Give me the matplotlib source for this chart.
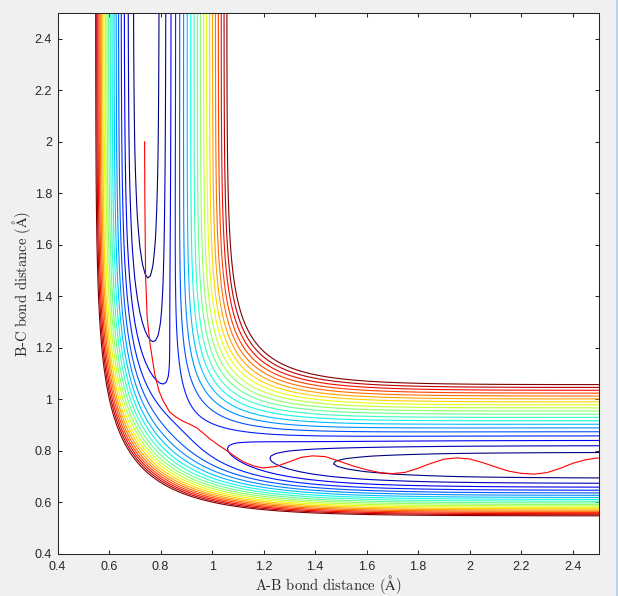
import numpy as np
import matplotlib
matplotlib.use("Agg")
import matplotlib.pyplot as plt
from matplotlib.lines import Line2D

plt.rcParams['mathtext.fontset'] = 'cm'

# LEPS surface parameters (H + H2, eV / Angstrom)
De = 4.746
beta = 1.942
r0 = 0.742
sato_k = 0.192

# contour levels (eV)
levels = [-4.70, -4.65, -4.60, -4.55, -4.50, -4.45, -4.40, -4.35, -4.30, -4.25,
          -4.20, -4.15, -4.10, -4.05, -4.00, -3.95, -3.90, -3.85, -3.80, -3.75]

# trajectory (A-B distance, B-C distance)
traj_ab = [0.738, 0.739, 0.742, 0.748, 0.759, 0.778, 0.795, 0.810, 0.836, 0.862,
           0.888, 0.915, 0.940, 0.965, 0.990, 1.020, 1.056, 1.090, 1.121, 1.160,
           1.198, 1.250, 1.300, 1.345, 1.390, 1.440, 1.500, 1.550, 1.600, 1.650,
           1.700, 1.750, 1.800, 1.850, 1.900, 1.950, 2.000, 2.050, 2.100, 2.150,
           2.200, 2.250, 2.300, 2.350, 2.400, 2.450, 2.500]
traj_bc = [2.000, 1.785, 1.475, 1.320, 1.217, 1.095, 1.030, 0.995, 0.950, 0.930,
           0.915, 0.903, 0.890, 0.870, 0.848, 0.826, 0.802, 0.778, 0.758, 0.742,
           0.734, 0.740, 0.758, 0.775, 0.781, 0.778, 0.758, 0.741, 0.727, 0.716,
           0.712, 0.717, 0.733, 0.752, 0.768, 0.773, 0.769, 0.755, 0.738, 0.722,
           0.713, 0.710, 0.716, 0.732, 0.752, 0.766, 0.773]

xticks = [0.4, 0.6, 0.8, 1.0, 1.2, 1.4, 1.6, 1.8, 2.0, 2.2, 2.4]
xticklabels = ['0.4', '0.6', '0.8', '1', '1.2', '1.4', '1.6', '1.8', '2', '2.2', '2.4']


def leps(rab, rbc, k):
    rac = rab + rbc

    def qj(r):
        e1 = np.exp(-beta * (r - r0))
        e2 = e1 ** 2
        Q = De / 4 * ((3 + k) * e2 - (2 + 6 * k) * e1)
        J = De / 4 * ((1 + 3 * k) * e2 - (6 + 2 * k) * e1)
        return Q, J

    Qa, Ja = qj(rab)
    Qb, Jb = qj(rbc)
    Qc, Jc = qj(rac)
    root = np.sqrt(np.maximum(Ja**2 + Jb**2 + Jc**2 - Ja*Jb - Jb*Jc - Ja*Jc, 0))
    return (Qa + Qb + Qc - root) / (1 + k)


axc = '#262626'
fig = plt.figure(figsize=(6.18, 5.96), dpi=100, facecolor='#f0f0f0')
ax = fig.add_axes([57.5 / 618, 42 / 596, 541 / 618, 541 / 596])
ax.set_facecolor('white')

g = np.arange(0.4, 2.515, 0.01)
X, Y = np.meshgrid(g, g)
Z = leps(X, Y, sato_k)
ax.contour(X, Y, Z, levels=levels, cmap='jet', linewidths=0.8)
ax.plot(traj_ab, traj_bc, color='red', lw=0.8)

ax.set_xlim(0.4, 2.5)
ax.set_ylim(0.4, 2.5)
ax.set_xticks(xticks)
ax.set_xticklabels(xticklabels)
ax.set_yticks(xticks)
ax.set_yticklabels(xticklabels)
ax.tick_params(direction='in', length=3, width=0.75, colors=axc, labelsize=9,
               top=True, right=True)
ax.tick_params(axis='x', pad=5)
ax.tick_params(axis='y', pad=4)
for lab in ax.get_xticklabels() + ax.get_yticklabels():
    lab.set_fontfamily('Liberation Sans')
for s in ax.spines.values():
    s.set_color(axc)
    s.set_linewidth(0.75)

ax.set_xlabel(r'A-B bond distance ($\mathrm{\AA}$)', fontfamily='cmr10',
              fontsize=10.5, color=axc, labelpad=0)
ax.set_ylabel(r'B-C bond distance ($\mathrm{\AA}$)', fontfamily='cmr10',
              fontsize=10.5, color=axc, labelpad=1)

fig.add_artist(Line2D([617 / 618, 617 / 618], [0, 1], transform=fig.transFigure,
                      color='#b9d1ea', lw=1.5))
fig.savefig("out.png", facecolor=fig.get_facecolor())
